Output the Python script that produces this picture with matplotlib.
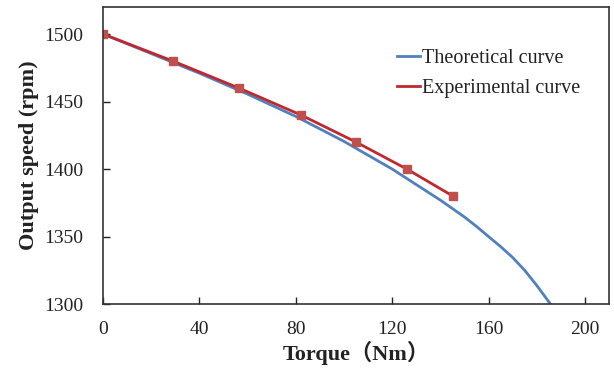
import matplotlib
matplotlib.use("Agg")
import matplotlib.pyplot as plt

# Theoretical curve
theo_torque = [0, 20, 40, 60, 80, 100, 120, 140, 150, 155, 160, 165, 170, 175, 180, 185.7]
theo_speed = [1500, 1485.5, 1471, 1455.5, 1439, 1420.5, 1400, 1377, 1364.5, 1357.5,
              1350, 1342.6, 1334.5, 1325, 1313.8, 1300]

# Experimental curve
exp_torque = [0, 29, 56.4, 82.2, 105, 126.1, 145.2]
exp_speed = [1500, 1480, 1460, 1440, 1420, 1400, 1380]

xticks = [0, 40, 80, 120, 160, 200]
yticks = [1300, 1350, 1400, 1450, 1500]

fam = ['Liberation Serif', 'Noto Sans CJK SC', 'DejaVu Sans']
plt.rcParams['font.family'] = fam

fig = plt.figure(figsize=(6.14, 3.70), dpi=100)
ax = fig.add_axes([0.1678, 0.178, 0.8242, 0.803])

ax.plot(theo_torque, theo_speed, color='#4F81BD', lw=2.0, label='Theoretical curve')
ax.plot(exp_torque, exp_speed, color='#C0282D', lw=2.0, marker='s', markersize=6,
        markerfacecolor='#C0504D', markeredgecolor='#C0504D', label='Experimental curve')

ax.set_xlim(0, 210)
ax.set_ylim(1300, 1520)
ax.set_xticks(xticks)
ax.set_yticks(yticks)
ax.tick_params(direction='in', length=5, width=1, labelsize=14, colors='#222222')
ax.tick_params(axis='x', pad=12)
ax.tick_params(axis='y', pad=14)
for s in ax.spines.values():
    s.set_color('#333333')
    s.set_linewidth(1.2)

ax.set_xlabel('Torque（Nm）', fontsize=16, fontweight='bold', color='#222222', labelpad=2)
ax.set_ylabel('Output speed (rpm)', fontsize=16, fontweight='bold', color='#222222', labelpad=4)

leg = ax.legend(loc='upper left', bbox_to_anchor=(0.581, 0.858), frameon=False, fontsize=14.5,
                handlelength=1.15, handletextpad=0.1, labelspacing=0.55, borderpad=0,
                borderaxespad=0)
for t in leg.get_texts():
    t.set_color('#222222')
for h in leg.legend_handles:
    h.set_marker('')

fig.savefig('out.png', dpi=100)
